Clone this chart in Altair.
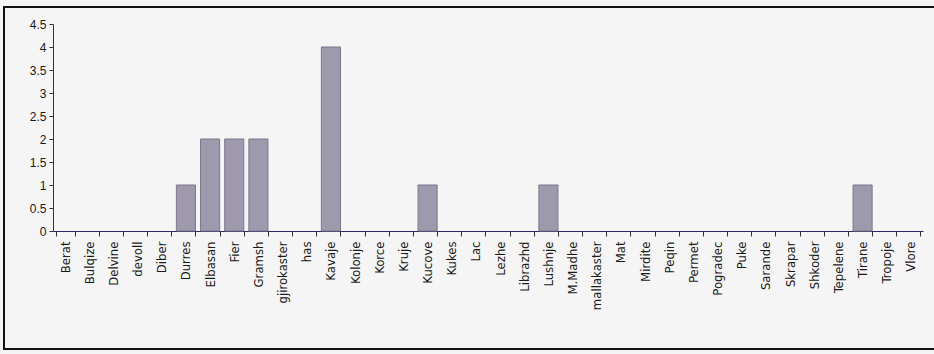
import altair as alt
import pandas as pd

districts = [
    "Berat", "Bulqize", "Delvine", "devoll", "Diber", "Durres", "Elbasan",
    "Fier", "Gramsh", "gjirokaster", "has", "Kavaje", "Kolonje", "Korce",
    "Kruje", "Kucove", "Kukes", "Lac", "Lezhe", "Librazhd", "Lushnje",
    "M.Madhe", "mallakaster", "Mat", "Mirdite", "Peqin", "Permet",
    "Pogradec", "Puke", "Sarande", "Skrapar", "Shkoder", "Tepelene",
    "Tirane", "Tropoje", "Vlore",
]
counts = [
    0, 0, 0, 0, 0, 1, 2,
    2, 2, 0, 0, 4, 0, 0,
    0, 1, 0, 0, 0, 0, 1,
    0, 0, 0, 0, 0, 0,
    0, 0, 0, 0, 0, 0,
    1, 0, 0,
]
y_ticks = [0, 0.5, 1, 1.5, 2, 2.5, 3, 3.5, 4, 4.5]

df = pd.DataFrame({"district": districts, "count": counts})

W, H = 870, 207
LEFT, TOP = 53, 24

bars = alt.Chart(df).mark_bar(
    fill="#9f99ad", stroke="#7c778a", strokeWidth=1
).encode(
    x=alt.X(
        "district:N",
        sort=districts,
        scale=alt.Scale(paddingInner=0.21, paddingOuter=0.105),
        axis=alt.Axis(
            title=None, labelAngle=-90, tickBand="extent", tickSize=5,
            labelPadding=5, labelFontSize=13,
            labelFont="DejaVu Sans Condensed, Liberation Sans Narrow, Liberation Sans",
            labelColor="#1a1a1a",
            domainColor="#2a2a66", tickColor="#333333", labelOverlap=False,
        ),
    ),
    y=alt.Y(
        "count:Q",
        scale=alt.Scale(domain=[0, 4.5], nice=False),
        axis=alt.Axis(
            title=None, values=y_ticks, grid=False, tickSize=4, format="~g",
            labelPadding=3, labelFontSize=12, labelFont="Liberation Sans",
            labelColor="#1a1a1a", domainColor="#333333", tickColor="#333333",
        ),
    ),
    strokeOpacity=alt.condition(alt.datum["count"] > 0, alt.value(1), alt.value(0)),
)

# frame around the whole figure
frame = alt.Chart(df).mark_rect(
    fill=None, stroke="#111111", strokeWidth=2
).encode(
    x=alt.value(4 - LEFT),
    x2=alt.value(W + 40),
    y=alt.value(7 - TOP),
    y2=alt.value(349 - TOP),
)

chart = alt.layer(frame, bars).properties(
    width=W,
    height=H,
    autosize=alt.AutoSizeParams(type="none"),
    padding={"left": LEFT, "top": TOP, "right": 934 - LEFT - W, "bottom": 354 - TOP - H},
    background="#f5f5f5",
).configure_view(stroke=None)

chart.save("out.html", embed_options={"renderer": "svg", "actions": False})
